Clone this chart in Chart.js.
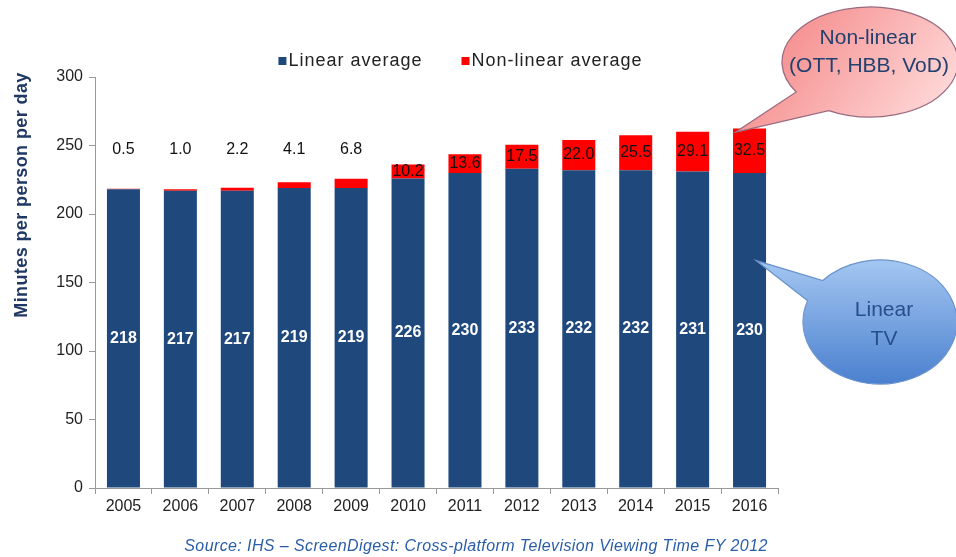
<!DOCTYPE html>
<html>
<head>
<meta charset="utf-8">
<script src="https://cdn.jsdelivr.net/npm/chart.js@4/dist/chart.umd.min.js"></script>
<style>
  html, body { margin: 0; padding: 0; background: #fff; }
  #wrap { width: 956px; height: 557px; position: relative; }
</style>
</head>
<body>
<div id="wrap"><canvas id="chart"></canvas></div>
<script>
const years = ['2005', '2006', '2007', '2008', '2009', '2010', '2011', '2012', '2013', '2014', '2015', '2016'];
const linearAvg = [218, 217, 217, 219, 219, 226, 230, 233, 232, 232, 231, 230];
const nonLinearAvg = [0.5, 1.0, 2.2, 4.1, 6.8, 10.2, 13.6, 17.5, 22.0, 25.5, 29.1, 32.5];
const seriesNames = ['Linear average', 'Non-linear average'];
const seriesColors = ['#1F497D', '#FF0000'];

const FONT = '"Liberation Sans", Arial, sans-serif';

// draws a speech bubble: ellipse plus a wedge going to the tip
const drawBubble = (ctx, cx, cy, rx, ry, a1, a2, tip, fill, stroke) => {
  ctx.save();
  ctx.beginPath();
  ctx.moveTo(tip.x, tip.y);
  ctx.ellipse(cx, cy, rx, ry, 0, a1, a2, true);
  ctx.closePath();
  ctx.fillStyle = fill;
  ctx.fill();
  ctx.lineWidth = 1.2;
  ctx.strokeStyle = stroke;
  ctx.stroke();
  ctx.restore();
};

const extrasPlugin = {
  id: 'extras',
  afterDatasetsDraw(chart) {
    const ctx = chart.ctx;
    const y = chart.scales.y;
    const blue = chart.getDatasetMeta(0).data;
    const red = chart.getDatasetMeta(1).data;

    ctx.save();
    ctx.textAlign = 'center';
    ctx.textBaseline = 'middle';

    // labels inside the blue bars
    ctx.font = 'bold 16px ' + FONT;
    ctx.fillStyle = '#ffffff';
    blue.forEach((bar, i) => {
      ctx.fillText(String(linearAvg[i]), bar.x, (bar.y + bar.base) / 2);
    });

    // labels on the red segments (above the bar when too thin)
    ctx.font = '16px ' + FONT;
    ctx.fillStyle = '#111111';
    red.forEach((bar, i) => {
      const v = nonLinearAvg[i];
      const ly = v < 8 ? y.getPixelForValue(247) : (bar.y + bar.base) / 2;
      ctx.fillText(v.toFixed(1), bar.x, ly);
    });
    ctx.restore();
  },
  afterDraw(chart) {
    const ctx = chart.ctx;
    const y = chart.scales.y;

    // y axis title
    ctx.save();
    ctx.translate(22, 195);
    ctx.rotate(-Math.PI / 2);
    ctx.font = 'bold 18px ' + FONT;
    ctx.letterSpacing = '0.4px';
    ctx.fillStyle = '#1F3864';
    ctx.textAlign = 'center';
    ctx.textBaseline = 'middle';
    ctx.fillText('Minutes per person per day', 0, 0);
    ctx.restore();

    // legend
    ctx.save();
    ctx.font = '18px ' + FONT;
    ctx.letterSpacing = '1px';
    ctx.textBaseline = 'middle';
    const gap = 38;
    const w0 = ctx.measureText(seriesNames[0]).width;
    const w1 = ctx.measureText(seriesNames[1]).width;
    const total = 11 + w0 + gap + 11 + w1;
    let lx = 461 - total / 2;
    seriesNames.forEach((name, i) => {
      ctx.fillStyle = seriesColors[i];
      ctx.fillRect(lx, 57, 8, 8);
      ctx.fillStyle = '#222222';
      ctx.fillText(name, lx + 10, 61);
      lx += 11 + (i === 0 ? w0 : w1) + gap;
    });
    ctx.restore();

    // source line
    ctx.save();
    ctx.font = 'italic 16px ' + FONT;
    ctx.letterSpacing = '0.4px';
    ctx.fillStyle = '#2A5DA8';
    ctx.textAlign = 'center';
    ctx.textBaseline = 'middle';
    ctx.fillText('Source: IHS \u2013 ScreenDigest: Cross-platform Television Viewing Time FY 2012', 476, 547);
    ctx.restore();

    // callouts anchored on the 2016 bars
    const last = years.length - 1;
    const redBar = chart.getDatasetMeta(1).data[last];
    const blueBar = chart.getDatasetMeta(0).data[last];
    const deg = Math.PI / 180;

    const pinkGrad = ctx.createLinearGradient(790, 10, 940, 118);
    pinkGrad.addColorStop(0, '#F58C8C');
    pinkGrad.addColorStop(1, '#FFDADA');
    drawBubble(ctx, 870, 62, 88, 55, 118 * deg, 147 * deg,
      { x: redBar.x - redBar.width / 2 + 2, y: redBar.y + 4 }, pinkGrad, '#9A6A80');

    const blueGrad = ctx.createLinearGradient(0, 258, 0, 384);
    blueGrad.addColorStop(0, '#A6C8F2');
    blueGrad.addColorStop(1, '#4A80CF');
    drawBubble(ctx, 880, 322, 77, 62, 200 * deg, 222 * deg,
      { x: blueBar.x + blueBar.width / 2 - 10, y: y.getPixelForValue(166) }, blueGrad, '#6A93CC');

    ctx.save();
    ctx.textAlign = 'center';
    ctx.textBaseline = 'middle';
    ctx.font = '21px ' + FONT;
    ctx.fillStyle = '#23406E';
    ctx.fillText('Non-linear', 868, 38);
    ctx.fillText('(OTT, HBB, VoD)', 869, 66);
    ctx.font = '21px ' + FONT;
    ctx.fillStyle = '#264F8C';
    ctx.fillText('Linear', 884, 310);
    ctx.fillText('TV', 884, 339);
    ctx.restore();
  }
};

const ctx = document.getElementById('chart').getContext('2d');

new Chart(ctx, {
  type: 'bar',
  data: {
    labels: years,
    datasets: [
      { label: seriesNames[0], data: linearAvg, backgroundColor: seriesColors[0] },
      { label: seriesNames[1], data: nonLinearAvg, backgroundColor: seriesColors[1] }
    ]
  },
  options: {
    responsive: true,
    maintainAspectRatio: false,
    animation: false,
    layout: { padding: { top: 77, right: 178, bottom: 0, left: 0 } },
    datasets: { bar: { barPercentage: 0.58, categoryPercentage: 1.0 } },
    plugins: {
      legend: { display: false },
      tooltip: { enabled: false }
    },
    scales: {
      x: {
        stacked: true,
        grid: { display: true, drawOnChartArea: false, color: '#999999', tickLength: 6 },
        border: { color: '#999999' },
        ticks: { color: '#222222', font: { family: FONT, size: 16 }, padding: 3 },
        afterFit: scale => { scale.height = 69; }
      },
      y: {
        stacked: true,
        min: 0,
        max: 300,
        ticks: { stepSize: 50, color: '#222222', font: { family: FONT, size: 16 }, padding: 6 },
        grid: { display: true, drawOnChartArea: false, color: '#999999', tickLength: 6 },
        border: { color: '#999999' },
        afterFit: scale => { scale.width = 95; }
      }
    }
  },
  plugins: [extrasPlugin]
});
</script>
</body>
</html>
